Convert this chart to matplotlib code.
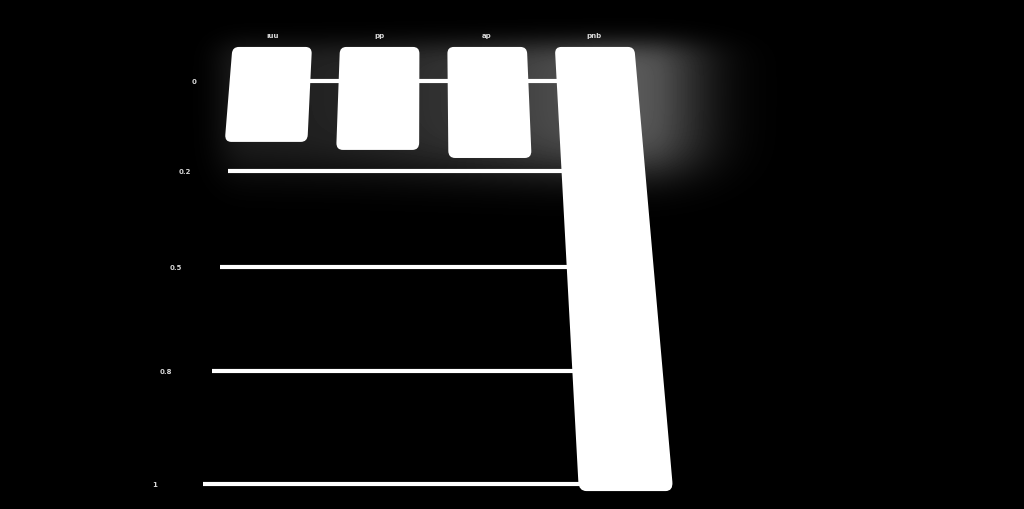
import math
import numpy as np
import matplotlib
matplotlib.use("Agg")
import matplotlib.pyplot as plt
import matplotlib.transforms as mtransforms
from matplotlib.patches import FancyBboxPatch

# data
categories = ["ıuu", "pp", "ap", "pnb"]
values = [0.172, 0.194, 0.216, 1.015]
base = -0.1
ticks = [0, 0.25, 0.5, 0.75, 1]
tick_labels = ["0", "0.2", "0.5", "0.8", "1"]

# perspective (chart units -> pixels)
CX, A, B, C = 426.0, 333.7, 82.0, -0.1429
X0, STEP = 270.0, 109.0


class Perspective(mtransforms.Transform):
    input_dims = output_dims = 2

    def transform_non_affine(self, xy):
        xy = np.asarray(xy, dtype=float).reshape(-1, 2)
        u = X0 + xy[:, 0] * STEP
        v = xy[:, 1]
        w = 1 + C * v
        return np.column_stack([CX + (u - CX) / w, (A * v + B) / w])


fig = plt.figure(figsize=(10.24, 5.10), dpi=100, facecolor="black")
ax = fig.add_axes([0, 0, 1, 1])
ax.set_facecolor("black")
ax.set_xlim(0, 1024)
ax.set_ylim(510, 0)
ax.set_autoscale_on(False)
ax.axis("off")
tr = Perspective() + ax.transData

# soft glow behind the bars, stronger on the right
xs = np.arange(1024) + 0.5
ys = np.arange(510) + 0.5
erf = np.vectorize(math.erf)
fx = 0.5 * (1 + erf((xs - 222) / 22)) * 0.5 * (1 - erf((xs - 685) / 55))
fx *= 0.12 + 0.30 * np.clip((xs - 220) / 440, 0, 1) ** 2
fy = 0.5 * (1 + erf((ys - 45) / 16)) * 0.5 * (1 - erf((ys - 170) / 30))
glow = np.outer(fy, fx)
ax.imshow(glow, cmap="gray", vmin=0, vmax=1, extent=(0, 1024, 510, 0),
          aspect="auto", zorder=0, interpolation="bilinear")

# grid lines
for t, lab in zip(ticks, tick_labels):
    ax.plot([-0.32, 3.0], [t, t], color="white", lw=3, solid_capstyle="butt",
            transform=tr, zorder=1)
    ax.text(-0.7, t, lab, color="#d8d8d8", fontsize=5, ha="center", va="center",
            fontweight="bold", transform=tr, zorder=3)

# bars
width = 0.74
for i, (cat, val) in enumerate(zip(categories, values)):
    bar = FancyBboxPatch((i - width / 2, base), width, val - base,
                         boxstyle="round,pad=0,rounding_size=0.06",
                         mutation_aspect=STEP / A,
                         facecolor="white", edgecolor="none", zorder=2)
    bar.set_transform(tr)
    ax.add_patch(bar)
    ax.text(i, -0.135, cat, color="#d8d8d8", fontsize=5, ha="center", va="center",
            fontweight="bold", transform=tr, zorder=3)

fig.savefig("out.png", dpi=100, facecolor="black")
